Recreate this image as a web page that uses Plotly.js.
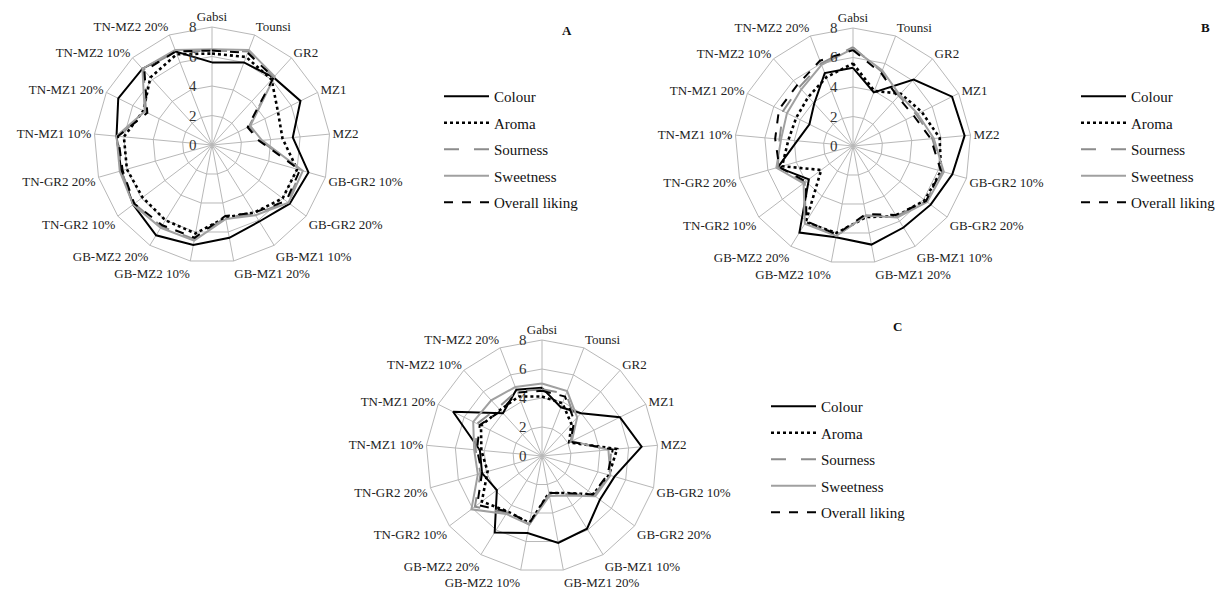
<!DOCTYPE html>
<html><head><meta charset="utf-8">
<script src="https://cdn.plot.ly/plotly-3.0.1.min.js"></script>
<style>body{margin:0;background:#fff}#chart{width:1226px;height:593px}</style>
</head><body><div id="chart"></div><script>
const categories = ['Gabsi','Tounsi','GR2','MZ1','MZ2','GB-GR2 10%','GB-GR2 20%','GB-MZ1 10%','GB-MZ1 20%','GB-MZ2 10%','GB-MZ2 20%','TN-GR2 10%','TN-GR2 20%','TN-MZ1 10%','TN-MZ1 20%','TN-MZ2 10%','TN-MZ2 20%'];
const seriesNames = ['Colour','Aroma','Sourness','Sweetness','Overall liking'];
const radialTicks = [0,2,4,6,8];

// Panel A
const colourA    = [5.6,6.0,6.2,6.7,5.5,6.8,6.6,6.1,6.4,6.9,7.2,6.7,6.4,6.5,7.1,7.0,6.8];
const aromaA     = [6.2,6.4,6.0,5.0,4.8,6.0,6.0,5.4,5.0,6.1,6.0,5.9,6.0,6.0,5.2,6.2,6.6];
const sournessA  = [6.4,6.8,6.2,2.8,3.3,6.3,6.4,5.5,5.0,6.5,6.5,6.6,6.4,6.4,5.0,6.9,6.8];
const sweetnessA = [6.5,6.9,6.3,2.9,3.4,6.4,6.5,5.6,5.1,6.6,6.6,6.7,6.5,6.5,5.1,7.0,6.9];
const overallA   = [6.4,6.7,6.2,2.7,3.2,6.2,6.3,5.4,4.9,6.4,6.4,6.6,6.3,6.4,4.9,6.8,6.8];

// Panel B
const colourB    = [5.3,3.9,6.1,7.5,7.6,7.0,6.6,6.5,6.8,6.3,6.9,3.75,5.3,3.8,3.3,3.9,5.3];
const aromaB     = [5.6,4.0,4.8,5.2,5.9,6.2,6.1,5.6,4.9,6.0,6.1,2.7,5.0,4.4,4.3,4.5,5.0];
const sournessB  = [6.7,5.4,4.6,4.8,5.4,6.3,6.2,5.6,4.8,6.2,6.1,4.1,5.3,5.0,5.3,5.4,6.0];
const sweetnessB = [6.6,5.5,4.7,4.9,5.5,6.4,6.3,5.7,4.8,6.2,6.2,4.2,5.4,4.9,5.0,5.2,5.9];
const overallB   = [6.5,5.3,4.5,4.6,5.3,6.2,6.2,5.5,4.7,6.1,6.0,4.0,5.2,5.3,5.6,5.6,6.2];

// Panel C
const colourC    = [4.7,3.6,4.0,6.0,6.9,5.2,5.0,5.9,6.1,5.4,6.2,3.9,4.3,4.3,6.85,4.0,4.9];
const aromaC     = [4.1,3.9,3.0,2.1,5.2,4.8,4.4,3.0,2.6,4.7,4.5,5.2,3.9,4.2,4.7,4.3,4.4];
const sournessC  = [4.6,4.6,3.4,2.2,4.8,4.8,4.5,3.1,2.7,4.8,4.6,5.8,4.4,4.6,5.0,4.5,4.8];
const sweetnessC = [5.0,4.8,3.6,2.3,4.6,4.9,4.6,3.2,2.8,4.8,4.7,6.1,4.6,4.7,5.3,5.2,5.1];
const overallC   = [4.5,4.4,3.3,2.2,4.9,4.7,4.4,3.0,2.6,4.7,4.5,5.6,4.3,4.5,4.8,4.2,4.7];

const W = 1226, H = 593;
const FONT = 'Liberation Serif, Times New Roman, serif';
const RMAX = 8;

const panels = [
  {key:'polar',  legend:'legend',  letter:'A', cx:212, cy:145, R:118, leg:[439,80],  lab:[567,31],
   data:[colourA,aromaA,sournessA,sweetnessA,overallA]},
  {key:'polar2', legend:'legend2', letter:'B', cx:853, cy:146, R:118, leg:[1076,80], lab:[1205,28],
   data:[colourB,aromaB,sournessB,sweetnessB,overallB]},
  {key:'polar3', legend:'legend3', letter:'C', cx:542, cy:456, R:116, leg:[766,390], lab:[897,326],
   data:[colourC,aromaC,sournessC,sweetnessC,overallC]}
];
const styles = [
  {color:'#000000', width:2,   dash:'solid'},
  {color:'#000000', width:2.6, dash:'dot'},
  {color:'#8c8c8c', width:2,   dash:'longdash'},
  {color:'#a0a0a0', width:2,   dash:'solid'},
  {color:'#000000', width:2,   dash:'dash'}
];

const traces = [];
panels.forEach((p, pi) => {
  p.data.forEach((vals, si) => {
    traces.push({
      type:'scatterpolar', mode:'lines',
      subplot:p.key, legend:p.legend,
      name:seriesNames[si], legendgroup:'g'+pi+'_'+si,
      theta:categories.concat([categories[0]]),
      r:vals.concat([vals[0]]),
      line:Object.assign({}, styles[si]),
      hoverinfo:'skip'
    });
  });
});

function polarCfg(p){
  return {
    domain:{x:[(p.cx-p.R)/W, (p.cx+p.R)/W], y:[(H-p.cy-p.R)/H, (H-p.cy+p.R)/H]},
    bgcolor:'rgba(0,0,0,0)',
    gridshape:'linear',
    angularaxis:{rotation:90, direction:'clockwise', type:'category', categoryarray:categories,
      gridcolor:'#b8b8b8', gridwidth:1, linecolor:'#b8b8b8', linewidth:1, showline:true, ticks:'',
      tickfont:{family:FONT, size:13, color:'#222'}},
    radialaxis:{range:[0,RMAX], tickvals:radialTicks, angle:90, showline:false, ticks:'',
      showticklabels:false, gridcolor:'#b8b8b8', gridwidth:1}
  };
}
function legendCfg(x, y){
  return {x:x/W, y:1-y/H, xanchor:'left', yanchor:'top', bgcolor:'rgba(0,0,0,0)',
    font:{family:FONT, size:15, color:'#111'}, traceorder:'grouped', tracegroupgap:4, itemwidth:45};
}

const annotations = [];
panels.forEach(p => {
  annotations.push({text:'<b>'+p.letter+'</b>', x:p.lab[0]/W, y:1-p.lab[1]/H, xref:'paper', yref:'paper',
    xanchor:'center', yanchor:'middle', showarrow:false, font:{family:FONT, size:13, color:'#111'}});
  radialTicks.forEach(v => {
    annotations.push({text:String(v), x:(p.cx-14)/W, y:1-(p.cy - v*p.R/RMAX)/H, xref:'paper', yref:'paper',
      xanchor:'right', yanchor:'middle', showarrow:false, borderpad:0, font:{family:FONT, size:15, color:'#333'}});
  });
});

const layout = {
  width:W, height:H, margin:{l:0,r:0,t:0,b:0},
  paper_bgcolor:'#fff', plot_bgcolor:'#fff',
  font:{family:FONT, color:'#222'},
  showlegend:true,
  annotations:annotations
};
panels.forEach(p => {
  layout[p.key] = polarCfg(p);
  layout[p.legend] = legendCfg(p.leg[0], p.leg[1]);
});
Plotly.newPlot('chart', traces, layout, {staticPlot:true, displayModeBar:false});
</script></body></html>
